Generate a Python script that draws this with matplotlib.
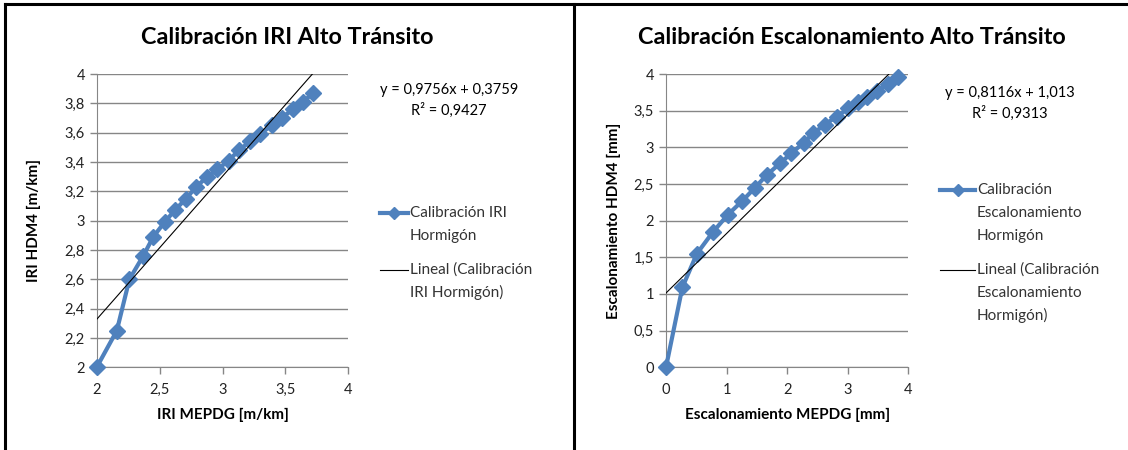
import matplotlib.pyplot as plt
from matplotlib.lines import Line2D
from matplotlib.ticker import FuncFormatter, MultipleLocator
import numpy as np

plt.rcParams['font.family'] = ['Lato', 'DejaVu Sans']

# datos
iri_mepdg = [2.00, 2.16, 2.26, 2.37, 2.45, 2.54, 2.62, 2.71, 2.79, 2.88, 2.96,
             3.05, 3.13, 3.22, 3.30, 3.39, 3.47, 3.56, 3.64, 3.72]
iri_hdm4 = [2.00, 2.25, 2.60, 2.76, 2.89, 2.99, 3.07, 3.15, 3.23, 3.30, 3.35,
            3.41, 3.48, 3.54, 3.59, 3.65, 3.70, 3.76, 3.81, 3.87]
iri_tend = (0.9756, 0.3759)

esc_mepdg = [0.00, 0.27, 0.51, 0.77, 1.02, 1.26, 1.47, 1.66, 1.88, 2.07,
             2.27, 2.43, 2.62, 2.82, 3.01, 3.17, 3.31, 3.48, 3.67, 3.83]
esc_hdm4 = [0.00, 1.09, 1.55, 1.84, 2.08, 2.27, 2.45, 2.62, 2.78, 2.92,
            3.06, 3.19, 3.31, 3.42, 3.53, 3.62, 3.69, 3.77, 3.86, 3.96]
esc_tend = (0.8116, 1.013)

azul = '#4F81BD'
gris = '#868686'

W, H = 1128, 450
fig = plt.figure(figsize=(W / 100, H / 100), dpi=100)


def coma(v, pos):
    s = ('%g' % round(v, 2))
    return s.replace('.', ',')


def fx(px):
    return px / W


def fy(py):
    return 1 - py / H


def leyenda(x0, x1, y_serie, y_tend, txt_serie, txt_tend):
    # leyenda estilo Excel: la muestra va alineada con la primera linea
    xm = (x0 + x1) / 2
    fig.add_artist(Line2D([fx(x0), fx(x1)], [fy(y_serie)] * 2,
                          color=azul, lw=3))
    fig.add_artist(Line2D([fx(xm)], [fy(y_serie)], color=azul,
                          marker='D', ms=6, lw=0))
    fig.add_artist(Line2D([fx(x0), fx(x1)], [fy(y_tend)] * 2,
                          color='black', lw=0.8))
    for y0, lineas in [(y_serie, txt_serie), (y_tend, txt_tend)]:
        for i, txt in enumerate(lineas):
            fig.text(fx(x1 + 2), fy(y0 + i * 22.8), txt, fontsize=11,
                     ha='left', va='center', color='#333333')


def panel(rect, x, y, tend, titulo, xlabel, ylabel, xlim, ylim, xstep, ystep,
          eq, eq_pos, title_x, ylpad):
    ax = fig.add_axes(rect)
    ax.plot(x, y, color=azul, lw=3, marker='D', ms=8, zorder=3, clip_on=False)
    # linea de tendencia
    m, b = tend
    xs = np.array([xlim[0], max(x)])
    ax.plot(xs, m * xs + b, color='black', lw=0.8, zorder=4)
    ax.set_xlim(xlim)
    ax.set_ylim(ylim)
    ax.xaxis.set_major_locator(MultipleLocator(xstep))
    ax.yaxis.set_major_locator(MultipleLocator(ystep))
    ax.xaxis.set_major_formatter(FuncFormatter(coma))
    ax.yaxis.set_major_formatter(FuncFormatter(coma))
    ax.grid(axis='y', color=gris, lw=1)
    ax.set_axisbelow(True)
    for s in ['top', 'right']:
        ax.spines[s].set_visible(False)
    for s in ['left', 'bottom']:
        ax.spines[s].set_color(gris)
    ax.tick_params(colors=gris, labelcolor='#222222', labelsize=10.5,
                   length=5, width=1)
    ax.tick_params(axis='x', pad=6)
    ax.set_xlabel(xlabel, fontsize=11, fontweight='bold', labelpad=8)
    ax.set_ylabel(ylabel, fontsize=11, fontweight='bold', labelpad=ylpad)
    fig.text(fx(title_x), fy(38), titulo, fontsize=16.8, fontweight='bold',
             ha='center', va='center')
    fig.text(fx(eq_pos[0]), fy(eq_pos[1]), eq, fontsize=10.5,
             ha='center', va='top', linespacing=1.45)
    return ax


panel([fx(96.7), 82.7 / H, 251.6 / W, 293.3 / H], iri_mepdg, iri_hdm4, iri_tend,
      'Calibración IRI Alto Tránsito', 'IRI MEPDG [m/km]', 'IRI HDM4 [m/km]',
      (2, 4), (2, 4), 0.5, 0.2,
      'y = 0,9756x + 0,3759\nR² = 0,9427', (449, 83), 287, 17)
leyenda(380, 408, 213, 270,
        ['Calibración IRI', 'Hormigón'],
        ['Lineal (Calibración', 'IRI Hormigón)'])

panel([fx(666), 82.7 / H, 242.3 / W, 293.3 / H], esc_mepdg, esc_hdm4, esc_tend,
      'Calibración Escalonamiento Alto Tránsito', 'Escalonamiento MEPDG [mm]',
      'Escalonamiento HDM4 [mm]',
      (0, 4), (0, 4), 1, 0.5,
      'y = 0,8116x + 1,013\nR² = 0,9313', (1010, 86), 852, 9)
leyenda(940, 975, 190, 270,
        ['Calibración', 'Escalonamiento', 'Hormigón'],
        ['Lineal (Calibración', 'Escalonamiento', 'Hormigón)'])

# marcos de los graficos
for xa, ya, xb, yb in [(5, 4, 1128, 4), (5, 4, 5, 450), (574, 4, 574, 450)]:
    fig.add_artist(Line2D([fx(xa), fx(xb)], [fy(ya), fy(yb)],
                          color='black', lw=2.2))

fig.savefig('out.png', dpi=100)
